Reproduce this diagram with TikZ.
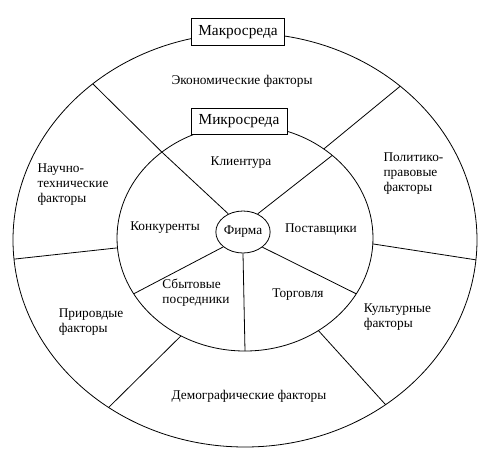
\documentclass[tikz,border=0pt]{standalone}
\usepackage{fontspec}
\setmainfont{Liberation Serif}
\usetikzlibrary{shapes.geometric, calc}
\tikzset{
  every path/.style={line width=0.6pt},
  factor/.style={
    font=\fontsize{10}{11.25}\selectfont,
    align=left,
    inner sep=0pt
  },
  envbox/.style={
    draw,
    fill=white,
    line width=0.7pt,
    inner sep=0pt,
    font=\fontsize{11.5}{13}\selectfont
  },
  firmnode/.style={
    draw,
    ellipse,
    inner sep=0pt,
    minimum width=39pt,
    minimum height=31.5pt,
    font=\fontsize{10}{12}\selectfont
  }
}

\begin{document}
\begin{tikzpicture}[x=0.75pt, y=-0.75pt]
          \useasboundingbox (0,0) rectangle (487,455);
          \coordinate (oc) at (245,240);
          \coordinate (ic) at (245,238);

          % rings
          \draw (oc) ellipse [x radius=232, y radius=207];
          \draw (ic) ellipse [x radius=128, y radius=113];
          \node[firmnode] (firma) at (243,232) {Фирма};

          % points on the rings
          \coordinate (o1) at ($(oc)+(-131:232 and 207)$);
          \coordinate (o2) at ($(oc)+(-48:232 and 207)$);
          \coordinate (o3) at ($(oc)+(174.7:232 and 207)$);
          \coordinate (o4) at ($(oc)+(5.5:232 and 207)$);
          \coordinate (o5) at ($(oc)+(126:232 and 207)$);
          \coordinate (o6) at ($(oc)+(52.7:232 and 207)$);
          \coordinate (i1) at ($(ic)+(-130.5:128 and 113)$);
          \coordinate (i2) at ($(ic)+(-52:128 and 113)$);
          \coordinate (i3) at ($(ic)+(175:128 and 113)$);
          \coordinate (i4) at ($(ic)+(3:128 and 113)$);
          \coordinate (i5) at ($(ic)+(120:128 and 113)$);
          \coordinate (i6) at ($(ic)+(55:128 and 113)$);
          \coordinate (k2) at ($(ic)+(-47:128 and 113)$);
          \coordinate (k3) at ($(ic)+(150.4:128 and 113)$);
          \coordinate (k4) at ($(ic)+(90:128 and 113)$);
          \coordinate (k5) at ($(ic)+(29.6:128 and 113)$);

          % macro sectors
          \draw (o1) -- (i1);
          \draw (o2) -- (i2);
          \draw (o3) -- (i3);
          \draw (o4) -- (i4);
          \draw (o5) -- (i5);
          \draw (o6) -- (i6);

          % micro sectors
          \draw (firma.129) -- (i1);
          \draw (firma.51) -- (k2);
          \draw (firma.-143) -- (k3);
          \draw (firma.-90) -- (k4);
          \draw (firma.-38) -- (k5);

          \node[envbox, minimum width=69.75pt, minimum height=20.25pt] (macro) at (238,32) {Макросреда};
          \node[envbox, minimum width=72pt, minimum height=19.5pt] (micro) at (239,121) {Микросреда};

          \node[factor] (econ) at (242,81) {Экономические факторы};
          \node[factor] (tech) at (73,185) {Научно-\\технические\\факторы};
          \node[factor] (polit) at (413.5,174) {Политико-\\правовые\\факторы};
          \node[factor] (nature) at (91,322) {Прировдые\\факторы};
          \node[factor] (cult) at (397.5,317.5) {Культурные\\факторы};
          \node[factor] (demo) at (249,396) {Демографические факторы};

          \node[factor] (clients) at (241,163) {Клиентура};
          \node[factor] (rivals) at (165,228) {Конкуренты};
          \node[factor] (suppliers) at (321,230) {Поставщики};
          \node[factor] (agents) at (196,293) {Сбытовые\\посредники};
          \node[factor] (trade) at (298,295) {Торговля};
        \end{tikzpicture}
\end{document}
